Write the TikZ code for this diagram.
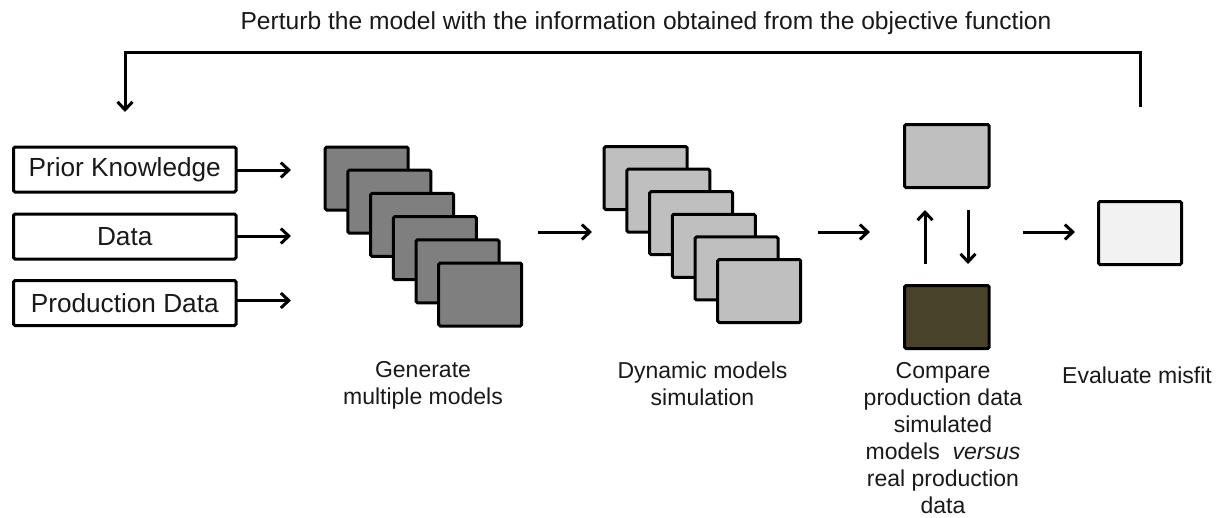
\documentclass[tikz,border=0pt]{standalone}
\usepackage{fontspec}
\setmainfont{Liberation Sans}
\usetikzlibrary{arrows.meta}
\definecolor{darkcard}{RGB}{127,127,127}
\definecolor{lightcard}{RGB}{191,191,191}
\definecolor{olivecard}{RGB}{74,67,43}
\definecolor{palecard}{RGB}{242,242,242}
\definecolor{ink}{RGB}{25,25,25}
\begin{document}
\begin{tikzpicture}[x=1pt,y=-1pt,
  card/.style={draw=black, line width=3pt, rounded corners=1.5pt, inner sep=0pt,
    outer sep=0pt, anchor=north west, minimum width=83pt, minimum height=63pt},
  inbox/.style={draw=black, line width=3pt, rounded corners=1.5pt, inner sep=0pt,
    outer sep=0pt, anchor=north west, minimum width=222.5pt, minimum height=45pt,
    font=\fontsize{26.2}{30}\selectfont, text=ink},
  arr/.style={line width=3pt, -{Straight Barb[length=8pt,width=15pt]}},
  lbl/.style={align=center, font=\fontsize{23}{26.9}\selectfont, text=ink,
    anchor=north, inner sep=0pt}
]
\useasboundingbox (0,0) rectangle (1223,517);

% feedback title
\node[font=\fontsize{24.6}{28}\selectfont, text=ink, anchor=base] (title) at (646,29.5)
  {Perturb the model with the information obtained from the objective function};

% input boxes
\node[inbox] (prior) at (13.5,147) {Prior Knowledge};
\node[inbox] (data)  at (13.5,214) {Data};
\node[inbox] (prod)  at (13.5,280.5) {Production Data};

% stack of generated models
\foreach \i in {0,...,5}
  \node[card, fill=darkcard] (g\i) at (325.2+22.7*\i,147+23.2*\i) {};

% stack of simulated models
\foreach \i in {0,...,5}
  \node[card, fill=lightcard] (s\i) at (604.2+22.7*\i,146.5+22.6*\i) {};

% comparison pair
\node[card, fill=lightcard, minimum width=84.7pt] (sim)  at (904.5,124.5) {};
\node[card, fill=olivecard, minimum width=84.7pt] (real) at (904.5,285.5) {};

% misfit
\node[card, fill=palecard] (misfit) at (1098.5,201.5) {};

% arrow end points
\coordinate (inA) at (291,170);
\coordinate (inB) at (291,236);
\coordinate (inC) at (291,300.5);
\coordinate (a1s) at (538,232);  \coordinate (a1e) at (592,232);
\coordinate (a2s) at (818,232);  \coordinate (a2e) at (870,232);
\coordinate (a3s) at (1023,232); \coordinate (a3e) at (1075,232);
\coordinate (upS) at (925,264);  \coordinate (upE) at (925,210);
\coordinate (dnS) at (968,210);  \coordinate (dnE) at (968,264);
\coordinate (fbS) at (1140,107); \coordinate (fbR) at (1140,52);
\coordinate (fbL) at (125,52);   \coordinate (fbE) at (125,112);

\draw[arr] (prior.east |- inA) -- (inA);
\draw[arr] (data.east |- inB) -- (inB);
\draw[arr] (prod.east |- inC) -- (inC);
\draw[arr] (a1s) -- (a1e);
\draw[arr] (a2s) -- (a2e);
\draw[arr] (a3s) -- (a3e);
\draw[arr] (upS) -- (upE);
\draw[arr] (dnS) -- (dnE);
\draw[arr, line join=miter] (fbS) -- (fbR) -- (fbL) -- (fbE);

% captions
\node[lbl] (capgen) at (423,361.5) {Generate\\multiple models};
\node[lbl] (capdyn) at (702.5,361.5) {Dynamic models\\simulation};
\node[lbl] (capcmp) at (943,362.5) {Compare\\production data\\simulated\\models~ \textit{versus}\\real production\\data};
\node[lbl] (capmis) at (1137,366.5) {Evaluate misfit};
\end{tikzpicture}
\end{document}
